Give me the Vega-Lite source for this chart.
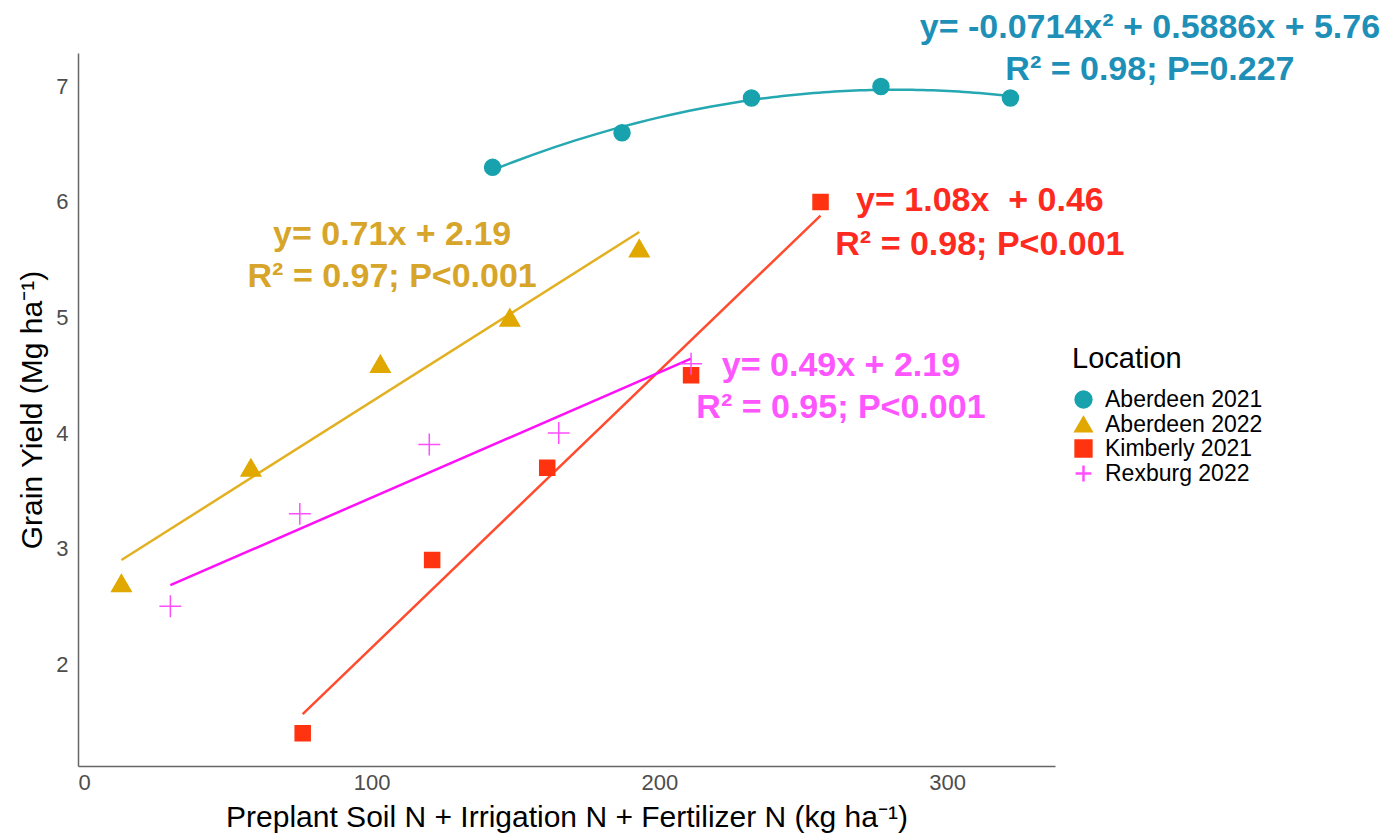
{
  "$schema": "https://vega.github.io/schema/vega-lite/v6.json",
  "width": 977,
  "height": 713,
  "autosize": "none",
  "padding": {"left": 78, "top": 53, "right": 332, "bottom": 68},
  "background": "white",
  "config": {"view": {"stroke": null}, "font": "Liberation Sans"},
  "datasets": {
    "pts": [
      {"Location": "Aberdeen 2021", "N": 142, "Yield": 6.3},
      {"Location": "Aberdeen 2021", "N": 187, "Yield": 6.6},
      {"Location": "Aberdeen 2021", "N": 232, "Yield": 6.9},
      {"Location": "Aberdeen 2021", "N": 277, "Yield": 7.0},
      {"Location": "Aberdeen 2021", "N": 322, "Yield": 6.9},
      {"Location": "Aberdeen 2022", "N": 13, "Yield": 2.7},
      {"Location": "Aberdeen 2022", "N": 58, "Yield": 3.7},
      {"Location": "Aberdeen 2022", "N": 103, "Yield": 4.6},
      {"Location": "Aberdeen 2022", "N": 148, "Yield": 5.0},
      {"Location": "Aberdeen 2022", "N": 193, "Yield": 5.6},
      {"Location": "Kimberly 2021", "N": 76, "Yield": 1.4},
      {"Location": "Kimberly 2021", "N": 121, "Yield": 2.9},
      {"Location": "Kimberly 2021", "N": 161, "Yield": 3.7},
      {"Location": "Kimberly 2021", "N": 211, "Yield": 4.5},
      {"Location": "Kimberly 2021", "N": 256, "Yield": 6.0},
      {"Location": "Rexburg 2022", "N": 30, "Yield": 2.5},
      {"Location": "Rexburg 2022", "N": 75, "Yield": 3.3},
      {"Location": "Rexburg 2022", "N": 120, "Yield": 3.9},
      {"Location": "Rexburg 2022", "N": 165, "Yield": 4.0},
      {"Location": "Rexburg 2022", "N": 211, "Yield": 4.6}
    ]
  },
  "encoding": {
    "x": {
      "field": "N", "type": "quantitative",
      "scale": {"domain": [-2.1, 337.5], "nice": false, "zero": false},
      "axis": {
        "title": "Preplant Soil N + Irrigation N + Fertilizer N (kg ha⁻¹)",
        "values": [0, 100, 200, 300],
        "grid": false, "ticks": false,
        "domainColor": "#666666", "domainWidth": 1.5,
        "labelFontSize": 22, "labelColor": "#4d4d4d", "labelPadding": 6,
        "titleFontSize": 30, "titleFontWeight": "normal", "titleColor": "#000000", "titlePadding": 9
      }
    },
    "y": {
      "field": "Yield", "type": "quantitative",
      "scale": {"domain": [1.117, 7.29], "nice": false, "zero": false},
      "axis": {
        "title": "Grain Yield (Mg ha⁻¹)",
        "values": [2, 3, 4, 5, 6, 7],
        "grid": false, "ticks": false,
        "domainColor": "#666666", "domainWidth": 1.5,
        "labelFontSize": 22, "labelColor": "#4d4d4d", "labelPadding": 10,
        "titleFontSize": 30, "titleFontWeight": "normal", "titleColor": "#000000", "titlePadding": 8
      }
    }
  },
  "layer": [
    {
      "data": {"name": "pts"},
      "transform": [
        {"filter": "datum.Location != 'Aberdeen 2021'"},
        {"regression": "Yield", "on": "N", "groupby": ["Location"], "method": "linear"}
      ],
      "mark": {"type": "line", "strokeWidth": 2.5},
      "encoding": {
        "color": {
          "field": "Location", "type": "nominal", "legend": null,
          "scale": {"range": ["#26A8B2", "#E3B022", "#FF4B2E", "#FF10F8"]}
        }
      }
    },
    {
      "data": {"name": "pts"},
      "transform": [
        {"filter": "datum.Location == 'Aberdeen 2021'"},
        {"regression": "Yield", "on": "N", "groupby": ["Location"], "method": "poly", "order": 2}
      ],
      "mark": {"type": "line", "strokeWidth": 2.5},
      "encoding": {
        "color": {"field": "Location", "type": "nominal", "legend": null}
      }
    },
    {
      "data": {"name": "pts"},
      "mark": {"type": "point", "filled": true, "opacity": 1, "strokeWidth": 1.5},
      "encoding": {
        "shape": {
          "field": "Location", "type": "nominal", "title": "Location",
          "scale": {
            "domain": ["Aberdeen 2021", "Aberdeen 2022", "Kimberly 2021", "Rexburg 2022"],
            "range": ["circle", "triangle-up", "square", "M-1,0H1M0,-1V1"]
          },
          "legend": {"orient": "none", "legendX": 994, "legendY": 292, "titleFontSize": 29, "titleFontWeight": "normal", "titleColor": "#000000", "labelFontSize": 23, "labelColor": "#000000", "titlePadding": 14, "rowPadding": -8, "labelOffset": 10, "symbolSize": 250, "symbolStrokeWidth": 2.5}
        },
        "fill": {
          "field": "Location", "type": "nominal", "title": "Location",
          "scale": {
            "domain": ["Aberdeen 2021", "Aberdeen 2022", "Kimberly 2021", "Rexburg 2022"],
            "range": ["#17A2AD", "#E0A800", "#FF330F", "#FF4DFF"]
          },
          "legend": {"orient": "none", "legendX": 994, "legendY": 292, "titleFontSize": 29, "titleFontWeight": "normal", "titleColor": "#000000", "labelFontSize": 23, "labelColor": "#000000", "titlePadding": 14, "rowPadding": -8, "labelOffset": 10, "symbolSize": 250, "symbolStrokeWidth": 2.5}
        },
        "stroke": {
          "field": "Location", "type": "nominal", "title": "Location",
          "scale": {
            "domain": ["Aberdeen 2021", "Aberdeen 2022", "Kimberly 2021", "Rexburg 2022"],
            "range": ["#17A2AD", "#E0A800", "#FF330F", "#FF4DFF"]
          },
          "legend": {"orient": "none", "legendX": 994, "legendY": 292, "titleFontSize": 29, "titleFontWeight": "normal", "titleColor": "#000000", "labelFontSize": 23, "labelColor": "#000000", "titlePadding": 14, "rowPadding": -8, "labelOffset": 10, "symbolSize": 250, "symbolStrokeWidth": 2.5}
        },
        "size": {
          "field": "Location", "type": "nominal", "legend": null,
          "scale": {"type": "ordinal", "range": [256, 380, 225, 480]}
        }
      }
    },
    {
      "data": {"values": [
        {"label": "y= -0.0714x² + 0.5886x + 5.76", "N": 370.5, "Yield": 7.51},
        {"label": "R² = 0.98; P=0.227", "N": 370.5, "Yield": 7.145}
      ]},
      "mark": {"type": "text", "font": "Liberation Sans", "fontWeight": "bold", "fontSize": 34, "color": "#1E8FB6", "align": "center", "baseline": "middle"},
      "encoding": {"text": {"field": "label"}}
    },
    {
      "data": {"values": [
        {"label": "y= 0.71x + 2.19", "N": 107.1, "Yield": 5.71},
        {"label": "R² = 0.97; P<0.001", "N": 107.1, "Yield": 5.35}
      ]},
      "mark": {"type": "text", "font": "Liberation Sans", "fontWeight": "bold", "fontSize": 34, "color": "#D7A52A", "align": "center", "baseline": "middle"},
      "encoding": {"text": {"field": "label"}}
    },
    {
      "data": {"values": [
        {"label": "y= 1.08x\u00a0 + 0.46", "N": 311.4, "Yield": 6.01},
        {"label": "R² = 0.98; P<0.001", "N": 311.4, "Yield": 5.63}
      ]},
      "mark": {"type": "text", "font": "Liberation Sans", "fontWeight": "bold", "fontSize": 34, "color": "#FF2A1F", "align": "center", "baseline": "middle"},
      "encoding": {"text": {"field": "label"}}
    },
    {
      "data": {"values": [
        {"label": "y= 0.49x + 2.19", "N": 263.1, "Yield": 4.58},
        {"label": "R² = 0.95; P<0.001", "N": 263.1, "Yield": 4.216}
      ]},
      "mark": {"type": "text", "font": "Liberation Sans", "fontWeight": "bold", "fontSize": 34, "color": "#FF55FF", "align": "center", "baseline": "middle"},
      "encoding": {"text": {"field": "label"}}
    }
  ]
}
